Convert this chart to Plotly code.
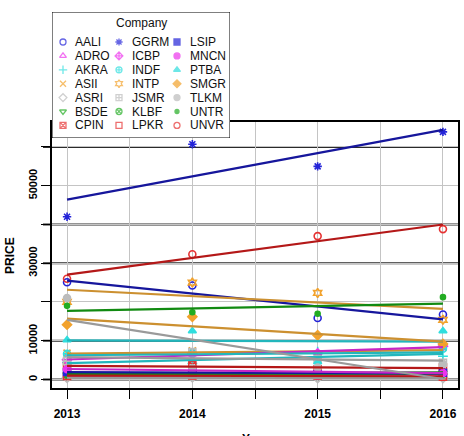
import numpy as np
import plotly.graph_objects as go

# ---------------- data ----------------
years = [2013, 2014, 2015, 2016]
companies = ["AALI", "ADRO", "AKRA", "ASII", "ASRI", "BSDE", "CPIN",
             "GGRM", "ICBP", "INDF", "INTP", "JSMR", "KLBF", "LPKR",
             "LSIP", "MNCN", "PTBA", "SMGR", "TLKM", "UNTR", "UNVR"]

AALI = [25100, 24250, 15850, 16775]
ADRO = [1090, 1040, 515, 1695]
AKRA = [4375, 4120, 7175, 6000]
ASII = [6800, 7425, 6000, 8275]
ASRI = [430, 560, 343, 352]
BSDE = [1290, 1805, 1800, 1755]
CPIN = [3375, 3780, 2600, 3090]
GGRM = [42000, 60700, 55000, 63900]
ICBP = [5100, 6550, 6738, 8575]
INDF = [6600, 6750, 5175, 7925]
INTP = [20000, 25000, 22325, 15400]
JSMR = [4725, 7050, 5225, 4320]
KLBF = [1250, 1830, 1320, 1515]
LPKR = [910, 1020, 1035, 720]
LSIP = [1930, 1890, 1320, 1740]
MNCN = [2625, 2540, 1855, 1655]
PTBA = [10200, 12500, 4525, 12500]
SMGR = [14150, 16200, 11400, 9175]
TLKM = [21000, 2865, 3105, 3980]
UNTR = [19000, 17350, 16950, 21250]
UNVR = [26000, 32300, 37000, 38800]

prices = [AALI, ADRO, AKRA, ASII, ASRI, BSDE, CPIN, GGRM, ICBP, INDF, INTP,
          JSMR, KLBF, LPKR, LSIP, MNCN, PTBA, SMGR, TLKM, UNTR, UNVR]

y_tickvals = [0, 10000, 20000, 30000, 40000, 50000, 60000]
y_ticktext = ["0", "10000", "", "30000", "", "50000", ""]
x_tickvals = [2013, 2013.5, 2014, 2014.5, 2015, 2015.5, 2016]
x_ticktext = ["2013", "", "2014", "", "2015", "", "2016"]
dark_grid = [0, 10000, 30000, 40000, 60000]

# ---------------- styles ----------------
W, H = 464, 436
pal_marker = ["#2424d8", "#ec34ec", "#30dede", "#f2a22c", "#bcbcbc", "#22ac22", "#e63232"]
pal_line = ["#16169c", "#c626c6", "#22b6bc", "#cc9030", "#9a9a9a", "#118a11", "#b41818"]
symbols = ["circle-open", "triangle-up-open", "cross-thin-open", "x-thin-open",
           "diamond-open", "triangle-down-open", "square-x-open", "asterisk-open",
           "diamond-cross-open", "circle-cross-open", "hexagram-open",
           "square-cross-open", "circle-x-open", "square-open", "square", "circle",
           "triangle-up", "diamond", "circle", "circle", "circle-open"]
sizes = [7] * 21
sizes[19] = 5
FONT = "Liberation Sans, Arial, sans-serif"

# plot region (pixels)
L, R_, T, B = 52, 458, 122, 388

fig = go.Figure()

# points
for i, (name, vals) in enumerate(zip(companies, prices)):
    fig.add_trace(go.Scatter(
        x=years, y=vals, mode="markers", showlegend=False,
        marker=dict(symbol=symbols[i], size=sizes[i], color=pal_marker[i % 7],
                    line=dict(color=pal_marker[i % 7], width=1.6)),
        xaxis="x", yaxis="y"))

# fitted lines
for i, (name, vals) in enumerate(zip(companies, prices)):
    b, a = np.polyfit(years, vals, 1)
    fit = [a + b * yr for yr in years]
    fig.add_trace(go.Scatter(
        x=[years[0], years[-1]], y=[fit[0], fit[-1]], mode="lines", showlegend=False,
        line=dict(color=pal_line[i % 7], width=2.2),
        xaxis="x", yaxis="y"))

# legend (manual, in its own subplot)
LW, LH = 178, 126
fig.add_trace(go.Scatter(
    x=[0, LW, LW, 0, 0], y=[0, 0, LH, LH, 0], mode="lines", fill="toself",
    fillcolor="white", line=dict(color="black", width=1), showlegend=False,
    hoverinfo="skip", xaxis="x2", yaxis="y2"))
col_sym = [11, 67, 125]
col_txt = [21, 78, 136]
row_y = [30 + 13.9 * r for r in range(7)]
lx, ly = [], []
annotations = []
for i, name in enumerate(companies):
    c, r = i // 7, i % 7
    lx.append(col_sym[c])
    ly.append(row_y[r])
    annotations.append(dict(x=col_txt[c], y=row_y[r], xref="x2", yref="y2",
                            text=name, showarrow=False, xanchor="left",
                            yanchor="middle", font=dict(family=FONT, size=12, color="#111")))
fig.add_trace(go.Scatter(
    x=lx, y=ly, mode="markers", showlegend=False, hoverinfo="skip",
    marker=dict(symbol=symbols, size=[s - 1 for s in sizes],
                color=[pal_marker[i % 7] for i in range(21)],
                line=dict(color=[pal_marker[i % 7] for i in range(21)], width=1.3)),
    xaxis="x2", yaxis="y2"))
annotations.append(dict(x=LW / 2, y=11, xref="x2", yref="y2", text="Company",
                        showarrow=False, xanchor="center", yanchor="middle",
                        font=dict(family=FONT, size=12, color="#111")))

# axis titles
annotations.append(dict(x=10 / W, y=1 - 256 / H, xref="paper", yref="paper",
                        text="<b>PRICE</b>", textangle=-90, showarrow=False,
                        xanchor="center", yanchor="middle",
                        font=dict(family=FONT, size=12, color="black")))
annotations.append(dict(x=(L + R_) / 2 / W, y=1 - 430 / H, xref="paper", yref="paper",
                        text="<b>Year</b>", showarrow=False,
                        xanchor="center", yanchor="top",
                        font=dict(family=FONT, size=12, color="black")))

allv = [v for s in prices for v in s]
span = max(allv) - min(allv)
yr_lo, yr_hi = min(allv) - 0.04 * span, max(allv) + 0.04 * span
xspan = years[-1] - years[0]
xr_lo, xr_hi = years[0] - 0.04 * xspan, years[-1] + 0.04 * xspan

shapes = [dict(type="line", xref="paper", yref="y", x0=43 / W, x1=R_ / W,
               y0=v, y1=v, line=dict(color="#2a2a2a", width=2), layer="below")
          for v in dark_grid]

fig.update_layout(
    width=W, height=H, margin=dict(l=0, r=0, t=0, b=0),
    paper_bgcolor="white", plot_bgcolor="white",
    showlegend=False, annotations=annotations, shapes=shapes,
    xaxis=dict(domain=[L / W, R_ / W], range=[xr_lo, xr_hi],
               tickvals=x_tickvals, ticktext=x_ticktext,
               ticks="outside", ticklen=9, tickcolor="black", tickwidth=1,
               showline=True, linecolor="black", linewidth=1.5, mirror=True,
               showgrid=True, gridcolor="#c4c4c4", gridwidth=1, zeroline=False,
               tickfont=dict(family=FONT, size=12, color="black", weight="bold"),
               ticklabelstandoff=5, anchor="y"),
    yaxis=dict(domain=[1 - B / H, 1 - T / H], range=[yr_lo, yr_hi],
               tickvals=y_tickvals, ticktext=y_ticktext, tickangle=-90,
               ticks="outside", ticklen=9, tickcolor="black", tickwidth=1,
               showline=True, linecolor="black", linewidth=1.5, mirror=True,
               showgrid=True, gridcolor="#c4c4c4", gridwidth=1, zeroline=False,
               tickfont=dict(family=FONT, size=11, color="black", weight="bold"),
               anchor="x"),
    xaxis2=dict(domain=[L / W, (L + LW) / W], range=[0, LW], visible=False,
                anchor="y2", fixedrange=True),
    yaxis2=dict(domain=[1 - (12 + LH) / H, 1 - 12 / H], range=[LH, 0], visible=False,
                anchor="x2", fixedrange=True),
)

fig.write_html("out.html")
